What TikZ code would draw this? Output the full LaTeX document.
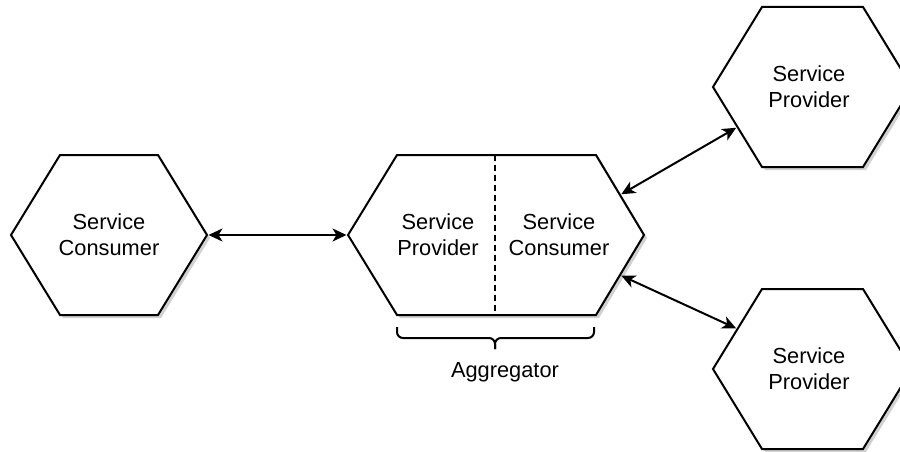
\documentclass[tikz,border=0pt]{standalone}
\usepackage{fontspec}
\setmainfont{Liberation Sans}
\usetikzlibrary{arrows.meta}
\begin{document}
\begin{tikzpicture}[x=1pt,y=-1pt,
  hex/.style={draw=black, line width=2pt, fill=white, line join=miter,
    preaction={fill=black!18, transform canvas={shift={(3pt,-3pt)}}}},
  lbl/.style={align=center, font=\fontsize{21.8}{26}\selectfont, inner sep=0pt},
  conn/.style={line width=2pt, shorten <=1.5pt, shorten >=1.5pt,
    {Stealth[length=14pt,width=13pt,inset=4pt]}-{Stealth[length=14pt,width=13pt,inset=4pt]}},
  bracestyle/.style={line width=2pt, rounded corners=6pt},
  divider/.style={line width=2pt, dash pattern=on 6pt off 4pt}]
\useasboundingbox (0,0) rectangle (900,452);
\clip (0,0) rectangle (900,452);

% left hexagon: Service Consumer
\draw[hex] (11,235) -- (60,155) -- (158,155) -- (207,235) -- (158,315) -- (60,315) -- cycle;
\coordinate (Lr) at (207,235);
\node[lbl] (lc) at (109,235) {Service\\Consumer};

% middle hexagon: aggregator
\draw[hex] (348,235) -- (397,155) -- (596,155) -- (644,235) -- (596,315) -- (397,315) -- cycle;
\coordinate (Ml) at (348,235);
\coordinate (Mtr) at (620,195);
\coordinate (Mbr) at (620,275);
\coordinate (Dt) at (495,155);
\coordinate (Db) at (495,315);
\draw[divider] (Dt) -- (Db);
\node[lbl] (mp) at (438,235) {Service\\Provider};
\node[lbl] (mc) at (559,235) {Service\\Consumer};

% top right hexagon
\draw[hex] (713,87) -- (762,7) -- (863,7) -- (912,87) -- (863,167) -- (762,167) -- cycle;
\coordinate (Tbl) at (737.5,127);
\node[lbl] (tp) at (809,87) {Service\\Provider};

% bottom right hexagon
\draw[hex] (713,369) -- (762,289) -- (863,289) -- (912,369) -- (863,449) -- (762,449) -- cycle;
\coordinate (Btl) at (737.5,329);
\node[lbl] (bp) at (809,369) {Service\\Provider};

% connectors
\draw[conn] (Lr) -- (Ml);
\draw[conn] (Mtr) -- (Tbl);
\draw[conn] (Mbr) -- (Btl);

% brace
\coordinate (BrL) at (397,327);
\coordinate (BrR) at (594,327);
\coordinate (BrM) at (495,338);
\coordinate (BrT) at (495,349);
\draw[bracestyle] (BrL) |- (BrM) -- (BrT);
\draw[bracestyle] (BrR) |- (BrM) -- (BrT);
\node[lbl, anchor=base] (agg) at (505,377) {Aggregator};
\end{tikzpicture}
\end{document}
